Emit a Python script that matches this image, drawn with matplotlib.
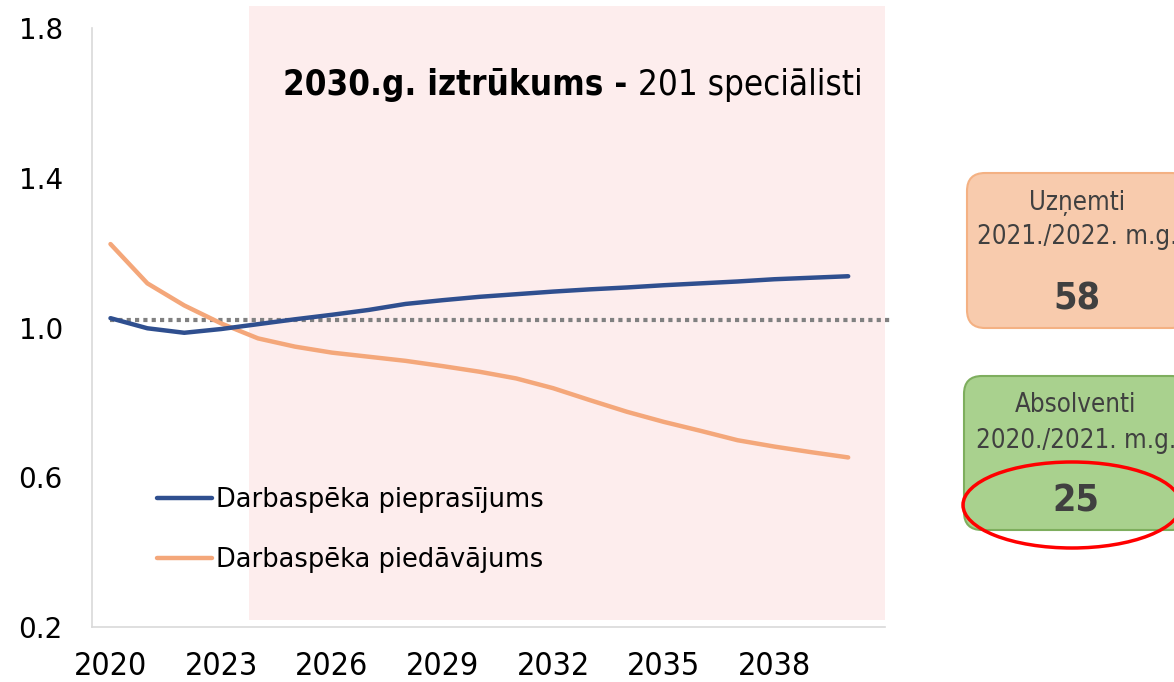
import numpy as np
import matplotlib.pyplot as plt
from matplotlib.patches import FancyBboxPatch, Ellipse, Rectangle

years = np.arange(2020, 2041)
demand = [1.025, 0.998, 0.986, 0.996, 1.009, 1.022, 1.034, 1.047, 1.063, 1.073, 1.082,
          1.089, 1.096, 1.102, 1.107, 1.113, 1.118, 1.123, 1.129, 1.133, 1.137]
supply = [1.223, 1.118, 1.059, 1.011, 0.971, 0.949, 0.933, 0.922, 0.911, 0.897, 0.882,
          0.864, 0.838, 0.806, 0.775, 0.748, 0.724, 0.699, 0.682, 0.667, 0.653]
balance_level = 1.02
forecast_start = 2023.75
x_ticks = [2020, 2023, 2026, 2029, 2032, 2035, 2038]
y_ticks = [0.2, 0.6, 1.0, 1.4, 1.8]

labels = ["Darbaspēka pieprasījums", "Darbaspēka piedāvājums"]
title_bold = "2030.g. iztrūkums - "
title_rest = "201 speciālisti"
admitted = ("Uzņemti\n2021./2022. m.g.", "58")
graduates = ("Absolventi\n2020./2021. m.g.", "25")

BLUE = "#2F4F8F"
ORANGE = "#F4A77A"
NARROW = dict(fontfamily="DejaVu Sans", fontstretch="condensed")
GEOM = "DejaVu Sans"

fig = plt.figure(figsize=(11.74, 6.82), dpi=100)
ax = fig.add_axes([0.0784, 0.0806, 0.6755, 0.8783])

ax.add_patch(Rectangle((forecast_start, 0.22), 2041 - forecast_start, 1.64,
                       facecolor="#FDEDED", edgecolor="none", clip_on=False, zorder=0))
ax.plot([2020, 2041.2], [balance_level, balance_level], color="#808080", lw=3,
        linestyle=(0, (1, 1)), clip_on=False, zorder=1)
ax.plot(years, demand, color=BLUE, lw=3.2, solid_capstyle="round", label=labels[0], zorder=3)
ax.plot(years, supply, color=ORANGE, lw=3.2, solid_capstyle="round", label=labels[1], zorder=2)

ax.set_xlim(2019.5, 2041)
ax.set_ylim(0.2, 1.8)
ax.set_xticks(x_ticks)
ax.set_yticks(y_ticks)
ax.set_xticklabels([str(t) for t in x_ticks], fontsize=23, **NARROW)
ax.set_yticklabels([f"{t:.1f}" for t in y_ticks], fontfamily=GEOM, fontsize=20)
ax.tick_params(axis="y", length=0, pad=21)
ax.tick_params(axis="x", length=0, pad=17)
for s in ["top", "right"]:
    ax.spines[s].set_visible(False)
for s in ["left", "bottom"]:
    ax.spines[s].set_color("#D9D9D9")
    ax.spines[s].set_linewidth(1.2)

leg = ax.legend(loc="upper left", bbox_to_anchor=(0.053, 0.272), frameon=False,
                prop={"family": GEOM, "size": 18.5}, handlelength=2.15, handletextpad=0.12,
                labelspacing=1.33)

t1 = ax.text(0.241, 0.905, title_bold, transform=ax.transAxes, fontsize=25,
             fontweight="bold", va="center", ha="left", **NARROW)
fig.canvas.draw()
bb = t1.get_window_extent()
x_end = ax.transAxes.inverted().transform((bb.x1, bb.y0))[0]
ax.text(x_end, 0.905, title_rest, transform=ax.transAxes, fontsize=25,
        va="center", ha="left", **NARROW)

# side boxes in pixel space
ov = fig.add_axes([0, 0, 1, 1], zorder=5)
ov.set_xlim(0, 1174)
ov.set_ylim(682, 0)
ov.axis("off")
ov.patch.set_alpha(0)

ov.add_patch(FancyBboxPatch((967, 173), 222, 155, boxstyle="round,pad=0,rounding_size=18",
                            facecolor="#F8CBAD", edgecolor="#F4B183", lw=1.5))
ov.add_patch(FancyBboxPatch((964, 376), 225, 154, boxstyle="round,pad=0,rounding_size=18",
                            facecolor="#A9D18E", edgecolor="#7EAE5E", lw=1.5))

box_txt = "#404040"
ov.text(1077, 220, admitted[0], ha="center", va="center", fontsize=18.5,
        color=box_txt, linespacing=1.45, **NARROW)
ov.text(1077, 299, admitted[1], ha="center", va="center", fontsize=27,
        fontweight="bold", color=box_txt, **NARROW)
ov.text(1076, 423, graduates[0], ha="center", va="center", fontsize=18.5,
        color=box_txt, linespacing=1.45, **NARROW)
ov.text(1076, 501, graduates[1], ha="center", va="center", fontsize=27,
        fontweight="bold", color=box_txt, **NARROW)
ov.add_patch(Ellipse((1072, 505), 218, 86, facecolor="none", edgecolor="#FF0000", lw=2.5))

fig.savefig("out.png", dpi=100)
